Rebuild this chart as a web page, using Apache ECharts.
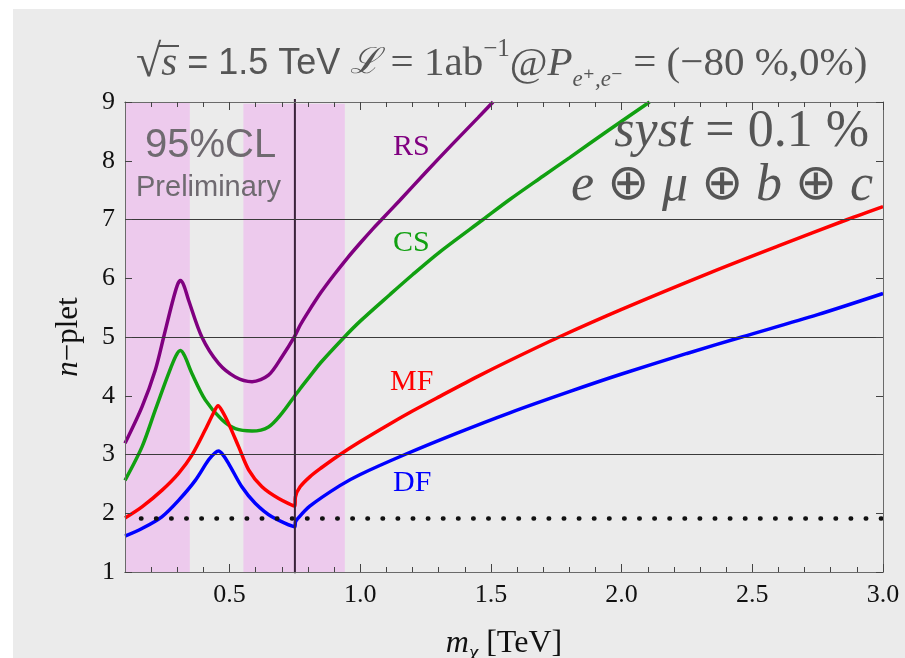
<!DOCTYPE html>
<html>
<head>
<meta charset="utf-8">
<script src="https://cdn.jsdelivr.net/npm/echarts@6/dist/echarts.min.js"></script>
<style>
  html, body { margin: 0; padding: 0; background: #fff; }
  #bg { position: absolute; left: 13px; top: 9px; width: 892px; height: 649px; background: #ebebeb; }
  #chart { position: absolute; left: 0; top: 0; width: 905px; height: 658px; }
</style>
</head>
<body>
<div id="bg"></div>
<div id="chart"></div>
<script>
// curve values (x = m_chi in TeV, y = n-plet)
var rsX = [0.1, 0.165, 0.216, 0.248, 0.28, 0.30, 0.312, 0.325, 0.343, 0.394, 0.458, 0.522, 0.586, 0.649, 0.70, 0.75,
           0.77, 0.80, 0.85, 0.90, 0.95, 1.0, 1.05, 1.082, 1.15, 1.25, 1.35, 1.45, 1.508];
var rsY = [3.19, 3.81, 4.44, 5.0, 5.57, 5.88, 5.96, 5.88, 5.63, 5.0, 4.55, 4.32, 4.24, 4.35, 4.66, 5.02,
           5.2, 5.42, 5.76, 6.06, 6.34, 6.6, 6.85, 7.0, 7.32, 7.8, 8.27, 8.73, 9.0];

var csX = [0.1, 0.165, 0.216, 0.267, 0.295, 0.312, 0.328, 0.356, 0.407, 0.471, 0.522, 0.586, 0.649, 0.70, 0.75,
           0.77, 0.807, 0.85, 0.935, 1.0, 1.113, 1.2, 1.305, 1.47, 1.572, 1.7, 1.8, 1.95, 2.107];
var csY = [2.56, 3.13, 3.76, 4.38, 4.68, 4.77, 4.68, 4.38, 3.93, 3.59, 3.44, 3.40, 3.47, 3.70, 4.0,
           4.12, 4.33, 4.57, 4.98, 5.27, 5.72, 6.06, 6.45, 7.0, 7.34, 7.74, 8.05, 8.52, 9.0];

var mfX = [0.1, 0.165, 0.241, 0.305, 0.356, 0.407, 0.44, 0.456, 0.472, 0.496, 0.535, 0.573, 0.624, 0.688, 0.75,
           0.752, 0.77, 0.807, 0.85, 0.916, 1.0, 1.113, 1.2, 1.305, 1.45, 1.572, 1.761, 2.0, 2.342, 2.6, 2.864, 3.0];
var mfY = [1.92, 2.11, 2.39, 2.68, 2.99, 3.42, 3.72, 3.83, 3.74, 3.53, 3.13, 2.74, 2.45, 2.25, 2.12,
           2.28, 2.45, 2.62, 2.77, 2.98, 3.22, 3.52, 3.74, 3.99, 4.33, 4.6, 5.0, 5.47, 6.1, 6.55, 7.0, 7.22];

var dfX = [0.1, 0.165, 0.241, 0.305, 0.369, 0.42, 0.445, 0.458, 0.472, 0.496, 0.547, 0.598, 0.662, 0.75,
           0.752, 0.757, 0.807, 0.922, 1.0, 1.171, 1.368, 1.572, 1.8, 2.0, 2.25, 2.46, 2.75, 3.0];
var dfY = [1.61, 1.74, 1.94, 2.22, 2.56, 2.91, 3.03, 3.06, 3.01, 2.85, 2.45, 2.17, 1.94, 1.77,
           1.85, 1.89, 2.12, 2.47, 2.66, 3.0, 3.36, 3.71, 4.07, 4.37, 4.72, 5.0, 5.38, 5.74];

// reference levels
var dottedLevel = 1.91;
var dottedRange = [0.161, 3.0];
var hLines = [3, 5, 7];
var vLineX = 0.75;
var vLineRange = [0.98, 9.05];

// pink 95% CL bands
var bandFromX = [0.088, 0.553];
var bandToX = [0.348, 0.941];
var bandFromY = [0.99, 0.88];
var bandToY = [9.07, 8.97];

// ticks
var xMajor = [0.5, 1.0, 1.5, 2.0, 2.5, 3.0];
var xMinor = [0.2, 0.3, 0.4, 0.6, 0.7, 0.8, 0.9, 1.1, 1.2, 1.3, 1.4, 1.6, 1.7, 1.8, 1.9,
              2.1, 2.2, 2.3, 2.4, 2.6, 2.7, 2.8, 2.9];

var serif = "'Liberation Serif', 'DejaVu Serif', serif";
var sans = "'Liberation Sans', 'DejaVu Sans', sans-serif";

function pairs(xs, ys) {
    return xs.map(function (x, i) { return [x, ys[i]]; });
}

var chart = echarts.init(document.getElementById('chart'));

function xAx(pos, ticks, len, labels) {
    return {
        type: 'value', position: pos, min: 0.1, max: 3.0, z: 5,
        axisLine: { show: true, lineStyle: { color: '#6a6a6a', width: 1 } },
        axisTick: { show: true, inside: true, length: len, customValues: ticks, lineStyle: { color: '#444' } },
        axisLabel: labels ? {
            show: true, customValues: xMajor, margin: 10,
            formatter: function (v) { return v.toFixed(1); },
            fontFamily: serif, fontSize: 26, color: '#111'
        } : { show: false },
        splitLine: { show: false }
    };
}

function yAx(pos, labels) {
    return {
        type: 'value', position: pos, min: 1, max: 9, interval: 1, z: 5,
        axisLine: { show: true, lineStyle: { color: '#6a6a6a', width: 1 } },
        axisTick: { show: true, inside: true, length: 7, lineStyle: { color: '#444' } },
        axisLabel: labels ? { show: true, margin: 10, fontFamily: serif, fontSize: 26, color: '#111' } : { show: false },
        splitLine: { show: false }
    };
}

var xMain = xAx('bottom', xMajor, 8, true);
xMain.name = '{i|m}{sub|χ}{n| [TeV]}';
xMain.nameLocation = 'middle';
xMain.nameGap = 52;
xMain.nameTextStyle = {
    color: '#111',
    rich: {
        i: { fontFamily: serif, fontStyle: 'italic', fontSize: 32, verticalAlign: 'middle', lineHeight: 40 },
        sub: { fontFamily: serif, fontStyle: 'italic', fontSize: 21, verticalAlign: 'bottom', lineHeight: 40 },
        n: { fontFamily: serif, fontSize: 32, verticalAlign: 'middle', lineHeight: 40 }
    }
};

var yMain = yAx('left', true);
yMain.name = '{i|n}{n|−plet}';
yMain.nameLocation = 'middle';
yMain.nameGap = 41;
yMain.nameTextStyle = {
    color: '#111',
    rich: {
        i: { fontFamily: serif, fontStyle: 'italic', fontSize: 31 },
        n: { fontFamily: serif, fontSize: 31 }
    }
};

function curve(name, xs, ys, color) {
    return {
        name: name, type: 'line', data: pairs(xs, ys), xAxisIndex: 0, yAxisIndex: 0,
        showSymbol: false, smooth: 0.3, z: 3, silent: true,
        lineStyle: { color: color, width: 3.5 }
    };
}

var grey = '#555';
var titleRich = {
    r: { fontFamily: serif, fontSize: 46, fill: grey, lineHeight: 54, verticalAlign: 'middle' },
    si: { fontFamily: serif, fontStyle: 'italic', fontSize: 41, fill: grey, lineHeight: 54, verticalAlign: 'middle' },
    a: { fontFamily: sans, fontSize: 36, fill: grey, lineHeight: 54, verticalAlign: 'middle' },
    m: { fontFamily: serif, fontSize: 41, fill: grey, lineHeight: 54, verticalAlign: 'middle' },
    sc: { fontFamily: "'DejaVu Serif', serif", fontStyle: 'italic', fontSize: 36, fill: grey, lineHeight: 54, verticalAlign: 'middle' },
    sup: { fontFamily: serif, fontSize: 25, fill: grey, lineHeight: 54, verticalAlign: 'top' },
    sub: { fontFamily: serif, fontStyle: 'italic', fontSize: 23, fill: grey, lineHeight: 54, verticalAlign: 'bottom' }
};

var systRich = {
    it: { fontFamily: serif, fontStyle: 'italic', fontSize: 52, fill: grey, lineHeight: 56 },
    up: { fontFamily: serif, fontSize: 52, fill: grey, lineHeight: 56 },
    op: { fontFamily: "'DejaVu Sans', sans-serif", fontSize: 50, fill: grey, lineHeight: 56 }
};

chart.setOption({
    animation: false,
    backgroundColor: 'transparent',
    grid: { left: 125, top: 102, right: 22, bottom: 86, containLabel: false, outerBoundsMode: 'none' },
    xAxis: [xMain, xAx('bottom', xMinor, 5, false), xAx('top', xMajor, 8, false), xAx('top', xMinor, 5, false)],
    yAxis: [yMain, yAx('right', false)],
    series: [
        {
            name: 'bands', type: 'line', data: [], z: 1, clip: false, silent: true,
            markArea: {
                silent: true,
                itemStyle: { color: '#edcaed' },
                data: bandFromX.map(function (x, i) {
                    return [{ coord: [x, bandFromY[i]] }, { coord: [bandToX[i], bandToY[i]] }];
                })
            },
            markLine: {
                silent: true, symbol: 'none', label: { show: false },
                lineStyle: { color: '#3a3a3a', width: 1, type: 'solid' },
                data: hLines.map(function (v) { return { yAxis: v }; })
            }
        },
        curve('RS', rsX, rsY, '#800080'),
        curve('CS', csX, csY, '#11a011'),
        curve('MF', mfX, mfY, '#ff0000'),
        curve('DF', dfX, dfY, '#0000ff'),
        {
            name: 'threshold', type: 'line', showSymbol: false, z: 4, silent: true,
            data: [[dottedRange[0], dottedLevel], [dottedRange[1], dottedLevel]],
            lineStyle: { color: '#111', width: 4.5, type: [0.5, 14.6], cap: 'round' }
        },
        {
            name: 'edge', type: 'line', showSymbol: false, z: 4, silent: true, clip: false,
            data: [[vLineX, vLineRange[0]], [vLineX, vLineRange[1]]],
            lineStyle: { color: '#3a223a', width: 2 }
        }
    ],
    graphic: [
        {
            type: 'text', left: 136, top: 37, z: 10, silent: true,
            style: {
                text: '{r|√}{si|s}{a| = 1.5 TeV }{sc|ℒ}{m| = 1ab}{sup|−1}{m|@}{si|P}{sub|e⁺,e⁻}{m| = (−80 %,0%)}',
                rich: titleRich
            }
        },
        {
            type: 'line', z: 10, silent: true,
            shape: { x1: 159, y1: 46, x2: 179, y2: 46 },
            style: { stroke: grey, lineWidth: 2 }
        },
        { type: 'text', left: 145, top: 126, z: 10, silent: true,
          style: { text: '95%CL', fontFamily: sans, fontSize: 40, fill: '#6f6a70' } },
        { type: 'text', left: 136, top: 173, z: 10, silent: true,
          style: { text: 'Preliminary', fontFamily: sans, fontSize: 29, fill: '#6f6a70' } },
        {
            type: 'text', right: 36, top: 106, z: 10, silent: true,
            style: { text: '{it|syst}{up| = 0.1 %}', rich: systRich, align: 'right' }
        },
        {
            type: 'text', right: 32, top: 160, z: 10, silent: true,
            style: { text: '{it|e }{op|⊕}{it| μ }{op|⊕}{it| b }{op|⊕}{it| c}', rich: systRich, align: 'right' }
        },
        { type: 'text', left: 393, top: 132, z: 10, silent: true,
          style: { text: 'RS', fontFamily: serif, fontSize: 30, fill: '#800080' } },
        { type: 'text', left: 393, top: 228, z: 10, silent: true,
          style: { text: 'CS', fontFamily: serif, fontSize: 30, fill: '#11a011' } },
        { type: 'text', left: 390, top: 367, z: 10, silent: true,
          style: { text: 'MF', fontFamily: serif, fontSize: 30, fill: '#ff0000' } },
        { type: 'text', left: 393, top: 468, z: 10, silent: true,
          style: { text: 'DF', fontFamily: serif, fontSize: 30, fill: '#0000ff' } }
    ]
});
</script>
</body>
</html>
